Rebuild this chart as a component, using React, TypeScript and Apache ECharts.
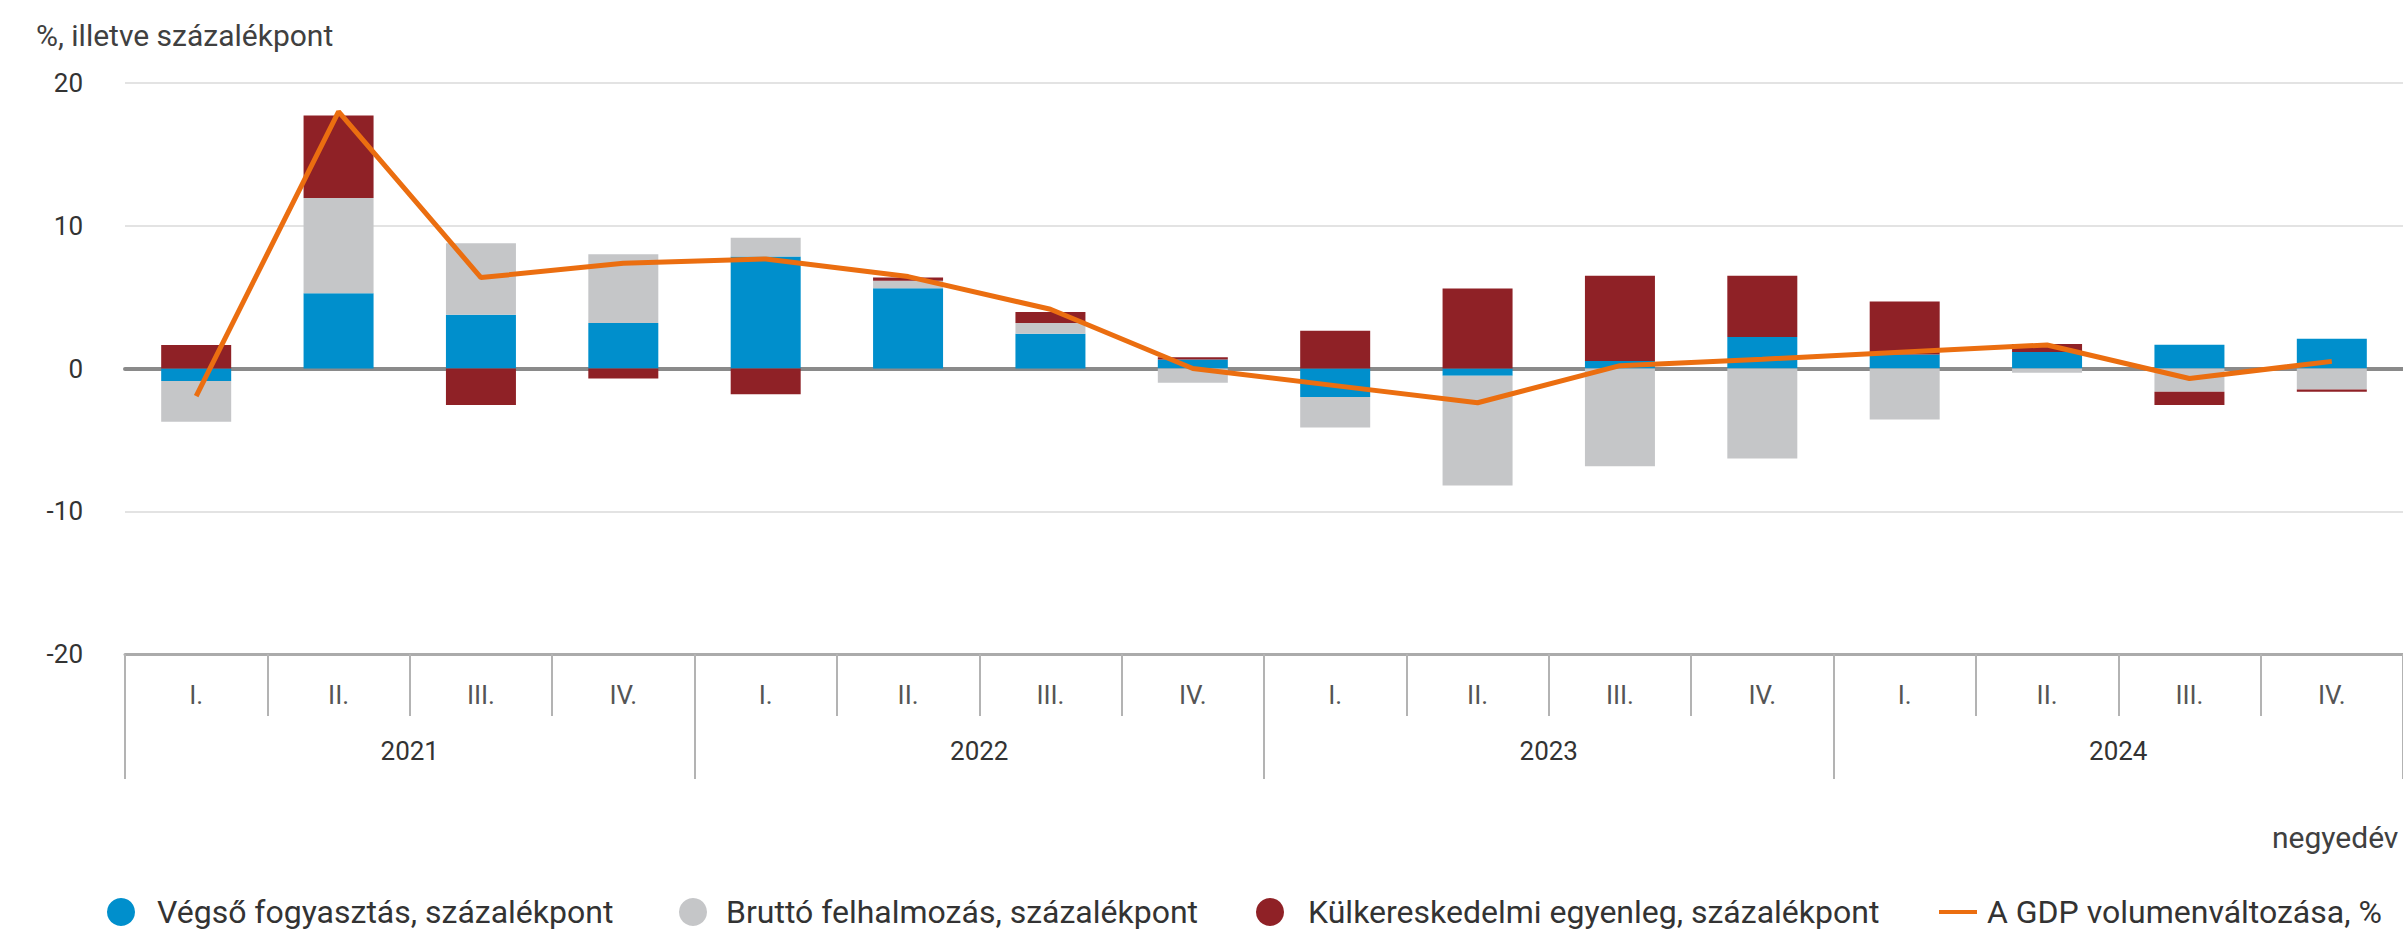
import React, { useEffect, useRef } from "react";
import * as echarts from "echarts";

const years = ["2021", "2022", "2023", "2024"];
const quarterLabels = ["I.", "II.", "III.", "IV."];
const categories = years.flatMap((y) => quarterLabels.map((q) => `${y} ${q}`));

const seriesNames = [
  "Végső fogyasztás, százalékpont",
  "Bruttó felhalmozás, százalékpont",
  "Külkereskedelmi egyenleg, százalékpont",
  "A GDP volumenváltozása, %",
];

const vegsoFogyasztas = [-0.88, 5.28, 3.77, 3.19, 7.84, 5.63, 2.44, 0.63, -2.0, -0.5, 0.53, 2.2, 0.98, 1.16, 1.67, 2.09];
const bruttoFelhalmozas = [-2.85, 6.67, 5.0, 4.81, 1.32, 0.51, 0.75, -1.0, -2.14, -7.69, -6.85, -6.3, -3.57, -0.3, -1.63, -1.47];
const kulkereskedelmi = [1.65, 5.77, -2.56, -0.7, -1.81, 0.23, 0.77, 0.16, 2.65, 5.6, 5.97, 4.3, 3.72, 0.56, -0.93, -0.16];
const gdpValtozas = [-1.93, 18.0, 6.37, 7.37, 7.67, 6.44, 4.15, 0.0, -1.2, -2.4, 0.2, 0.65, 1.15, 1.65, -0.7, 0.5];

const yTicks = { min: -20, max: 20, interval: 10 };

const colors = {
  blue: "#008FCC",
  gray: "#C5C6C8",
  red: "#8F2126",
  orange: "#EB6E10",
};

export default function App() {
  const ref = useRef<HTMLDivElement>(null);

  useEffect(() => {
    if (!ref.current) return;
    const chart = echarts.init(ref.current, undefined, { renderer: "svg" });
    const font = "Roboto, 'Noto Sans', sans-serif";
    const legendBase = {
      orient: "horizontal",
      top: 896,
      padding: 0,
      itemWidth: 38,
      itemHeight: 28,
      selectedMode: false,
    };
    const legendText = (pad: number) => ({
      fontSize: 32,
      lineHeight: 30,
      color: "#333333",
      padding: [0, 0, 0, pad],
      fontFamily: font,
    });
    const option: any = {
      animation: false,
      backgroundColor: "#ffffff",
      textStyle: { fontFamily: font },
      title: [
        {
          text: "%, illetve százalékpont",
          left: 36,
          top: 20,
          padding: 0,
          textStyle: { fontSize: 30, fontWeight: "normal", color: "#404040", fontFamily: font },
        },
        {
          text: "negyedév",
          left: 2272,
          top: 822,
          padding: 0,
          textStyle: { fontSize: 30, fontWeight: "normal", color: "#404040", fontFamily: font },
        },
      ],
      legend: [
        {
          ...legendBase,
          left: 107,
          data: [{ name: seriesNames[0], icon: "circle" }],
          textStyle: legendText(12),
        },
        {
          ...legendBase,
          left: 679,
          data: [{ name: seriesNames[1], icon: "circle" }],
          textStyle: legendText(9),
        },
        {
          ...legendBase,
          left: 1256,
          data: [{ name: seriesNames[2], icon: "circle" }],
          textStyle: legendText(14),
        },
        {
          ...legendBase,
          left: 1939,
          data: [{ name: seriesNames[3], icon: "path://M0,0L38,0L38,4L0,4Z" }],
          textStyle: legendText(5),
        },
      ],
      grid: { left: 125, right: 0, top: 83, bottom: 279, containLabel: false },
      xAxis: [
        {
          type: "category",
          data: categories,
          position: "bottom",
          boundaryGap: true,
          axisLine: { show: true, onZero: false, lineStyle: { color: "#ababab", width: 3 } },
          axisTick: { show: true, interval: 0, length: 62, lineStyle: { color: "#b3b3b3", width: 2 } },
          axisLabel: {
            interval: 0,
            margin: 28,
            fontSize: 26,
            color: "#555555",
            fontFamily: font,
            formatter: (v: string) => v.split(" ")[1],
          },
          splitLine: { show: false },
          z: 3,
        },
        {
          type: "category",
          data: years,
          position: "bottom",
          boundaryGap: true,
          axisLine: { show: false, onZero: false },
          axisTick: { show: true, interval: 0, length: 125, lineStyle: { color: "#b3b3b3", width: 2 } },
          axisLabel: { interval: 0, margin: 84, fontSize: 26, color: "#333333", fontFamily: font },
          splitLine: { show: false },
        },
        {
          type: "category",
          data: categories,
          position: "bottom",
          boundaryGap: true,
          axisLine: { show: true, onZero: true, lineStyle: { color: "#8a8a8a", width: 4 } },
          axisTick: { show: false },
          axisLabel: { show: false },
          splitLine: { show: false },
          z: 1,
        },
      ],
      yAxis: {
        type: "value",
        min: yTicks.min,
        max: yTicks.max,
        interval: yTicks.interval,
        axisLine: { show: false },
        axisTick: { show: false },
        axisLabel: { margin: 42, fontSize: 26, color: "#333333", fontFamily: font },
        splitLine: { show: true, lineStyle: { color: "#e3e3e3", width: 2 } },
      },
      series: [
        {
          name: seriesNames[0],
          type: "bar",
          stack: "gdp",
          barWidth: 70,
          data: vegsoFogyasztas,
          itemStyle: { color: colors.blue },
        },
        {
          name: seriesNames[1],
          type: "bar",
          stack: "gdp",
          barWidth: 70,
          data: bruttoFelhalmozas,
          itemStyle: { color: colors.gray },
        },
        {
          name: seriesNames[2],
          type: "bar",
          stack: "gdp",
          barWidth: 70,
          data: kulkereskedelmi,
          itemStyle: { color: colors.red },
        },
        {
          name: seriesNames[3],
          type: "line",
          data: gdpValtozas,
          symbol: "none",
          showSymbol: false,
          color: colors.orange,
          itemStyle: { color: colors.orange },
          lineStyle: { color: colors.orange, width: 5 },
          z: 5,
        },
      ],
    };
    chart.setOption(option);
    return () => chart.dispose();
  }, []);

  return (
    <div
      ref={ref}
      style={{ position: "fixed", left: 0, top: 0, width: 2403, height: 933, background: "#fff" }}
    />
  );
}
